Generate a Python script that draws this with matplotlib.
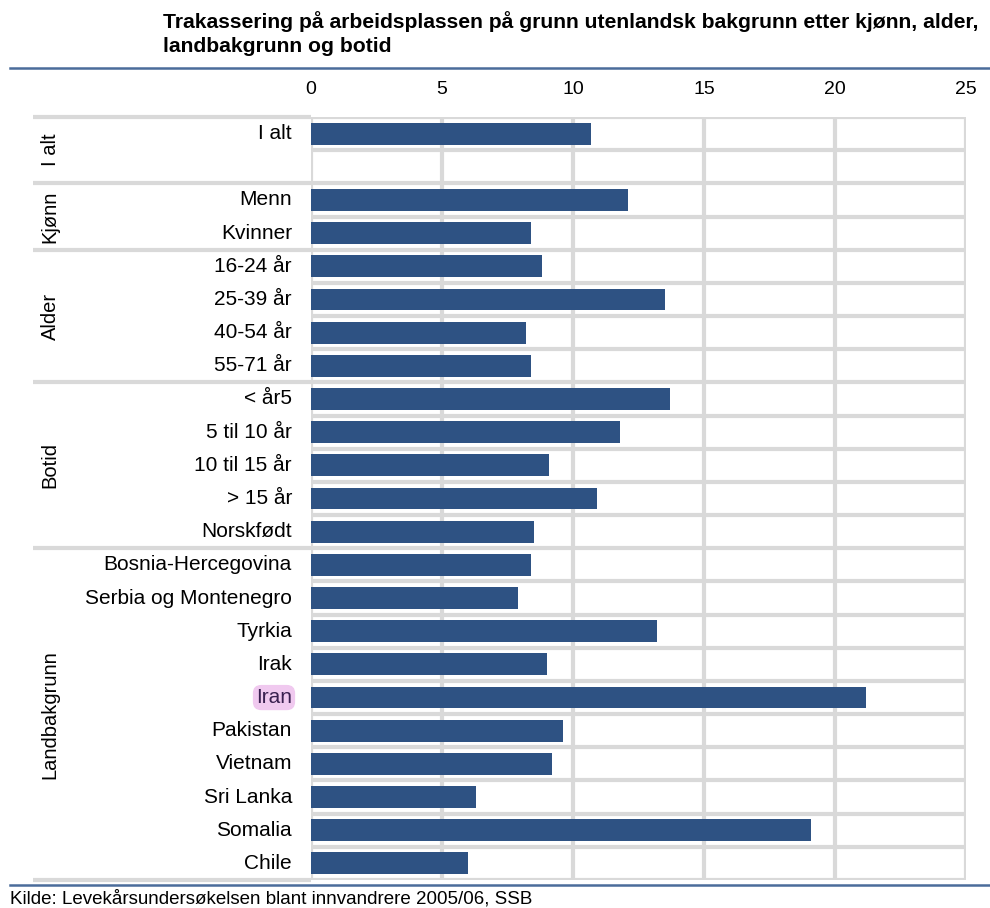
import matplotlib
matplotlib.use('Agg')
import matplotlib.pyplot as plt
from matplotlib.lines import Line2D

plt.rcParams['font.family'] = ['Liberation Sans', 'DejaVu Sans']

# data
kategorier = ['I alt', '', 'Menn', 'Kvinner',
              '16-24 år', '25-39 år', '40-54 år', '55-71 år',
              '< år5', '5 til 10 år', '10 til 15 år', '> 15 år', 'Norskfødt',
              'Bosnia-Hercegovina', 'Serbia og Montenegro', 'Tyrkia', 'Irak',
              'Iran', 'Pakistan', 'Vietnam', 'Sri Lanka', 'Somalia', 'Chile']
verdier = [10.7, None, 12.1, 8.4,
           8.8, 13.5, 8.2, 8.4,
           13.7, 11.8, 9.1, 10.9, 8.5,
           8.4, 7.9, 13.2, 9.0,
           21.2, 9.6, 9.2, 6.3, 19.1, 6.0]
grupper = ['I alt', 'Kjønn', 'Alder', 'Botid', 'Landbakgrunn']
gruppe_rader = [2, 2, 4, 5, 10]
x_ticks = [0, 5, 10, 15, 20, 25]

W, H = 990, 908
fig = plt.figure(figsize=(W / 100, H / 100), dpi=100)

BAR = '#2e5283'
GRID = '#d9d9d9'
LINE = '#4a6c9b'

top, bot = 117, 880
x0, x1 = 311, 966
lx0 = 33

n = len(kategorier)

# plot area
ax = fig.add_axes([x0 / W, 1 - bot / H, (x1 - x0) / W, (bot - top) / H])
ax.set_xlim(0, 25)
ax.set_ylim(n, 0)
for s in ax.spines.values():
    s.set_visible(False)
ax.hlines(range(n + 1), 0, 25, color=GRID, lw=3, zorder=1)
ax.vlines(x_ticks, 0, n, color=GRID, lw=3, zorder=1)
for i, v in enumerate(verdier):
    if v is not None:
        ax.barh(i + 0.5, v, height=0.66, color=BAR, zorder=3)
ax.xaxis.tick_top()
ax.set_xticks(x_ticks)
ax.set_xticklabels([str(t) for t in x_ticks], fontsize=14)
ax.tick_params(axis='x', length=0, pad=14)
ax.set_yticks([])

# label area
axl = fig.add_axes([lx0 / W, 1 - bot / H, (x0 - lx0) / W, (bot - top) / H])
axl.set_xlim(0, 1)
axl.set_ylim(n, 0)
axl.axis('off')
grenser = [0]
for g in gruppe_rader:
    grenser.append(grenser[-1] + g)
axl.hlines(grenser, 0, 1, color=GRID, lw=3, clip_on=False)
lab_x = (292 - lx0) / (x0 - lx0)
for i, k in enumerate(kategorier):
    if k == 'Iran':
        axl.text(lab_x, i + 0.5, k, ha='right', va='center', fontsize=15, color='#3a2050',
                 bbox=dict(boxstyle='round,pad=0.15,rounding_size=0.4', fc='#f0c9ef', ec='none'))
    elif k:
        axl.text(lab_x, i + 0.5, k, ha='right', va='center', fontsize=15)
grp_x = (50 - lx0) / (x0 - lx0)
for g, a, b in zip(grupper, grenser[:-1], grenser[1:]):
    axl.text(grp_x, (a + b) / 2, g, rotation=90, ha='center', va='center', fontsize=14.5)

# title, rules, source
fig.text(163 / W, 1 - 22 / H, 'Trakassering på arbeidsplassen på grunn utenlandsk bakgrunn etter kjønn, alder,',
         fontsize=15.2, fontweight='bold', va='center')
fig.text(163 / W, 1 - 46 / H, 'landbakgrunn og botid', fontsize=15.2, fontweight='bold', va='center')
fig.add_artist(Line2D([10 / W, 1], [1 - 68 / H] * 2, color=LINE, lw=1.8))
fig.add_artist(Line2D([10 / W, 1], [1 - 885 / H] * 2, color=LINE, lw=1.8))
fig.text(10 / W, 1 - 899 / H, 'Kilde: Levekårsundersøkelsen blant innvandrere 2005/06, SSB',
         fontsize=13.5, va='center')

fig.savefig('out.png', dpi=100)
